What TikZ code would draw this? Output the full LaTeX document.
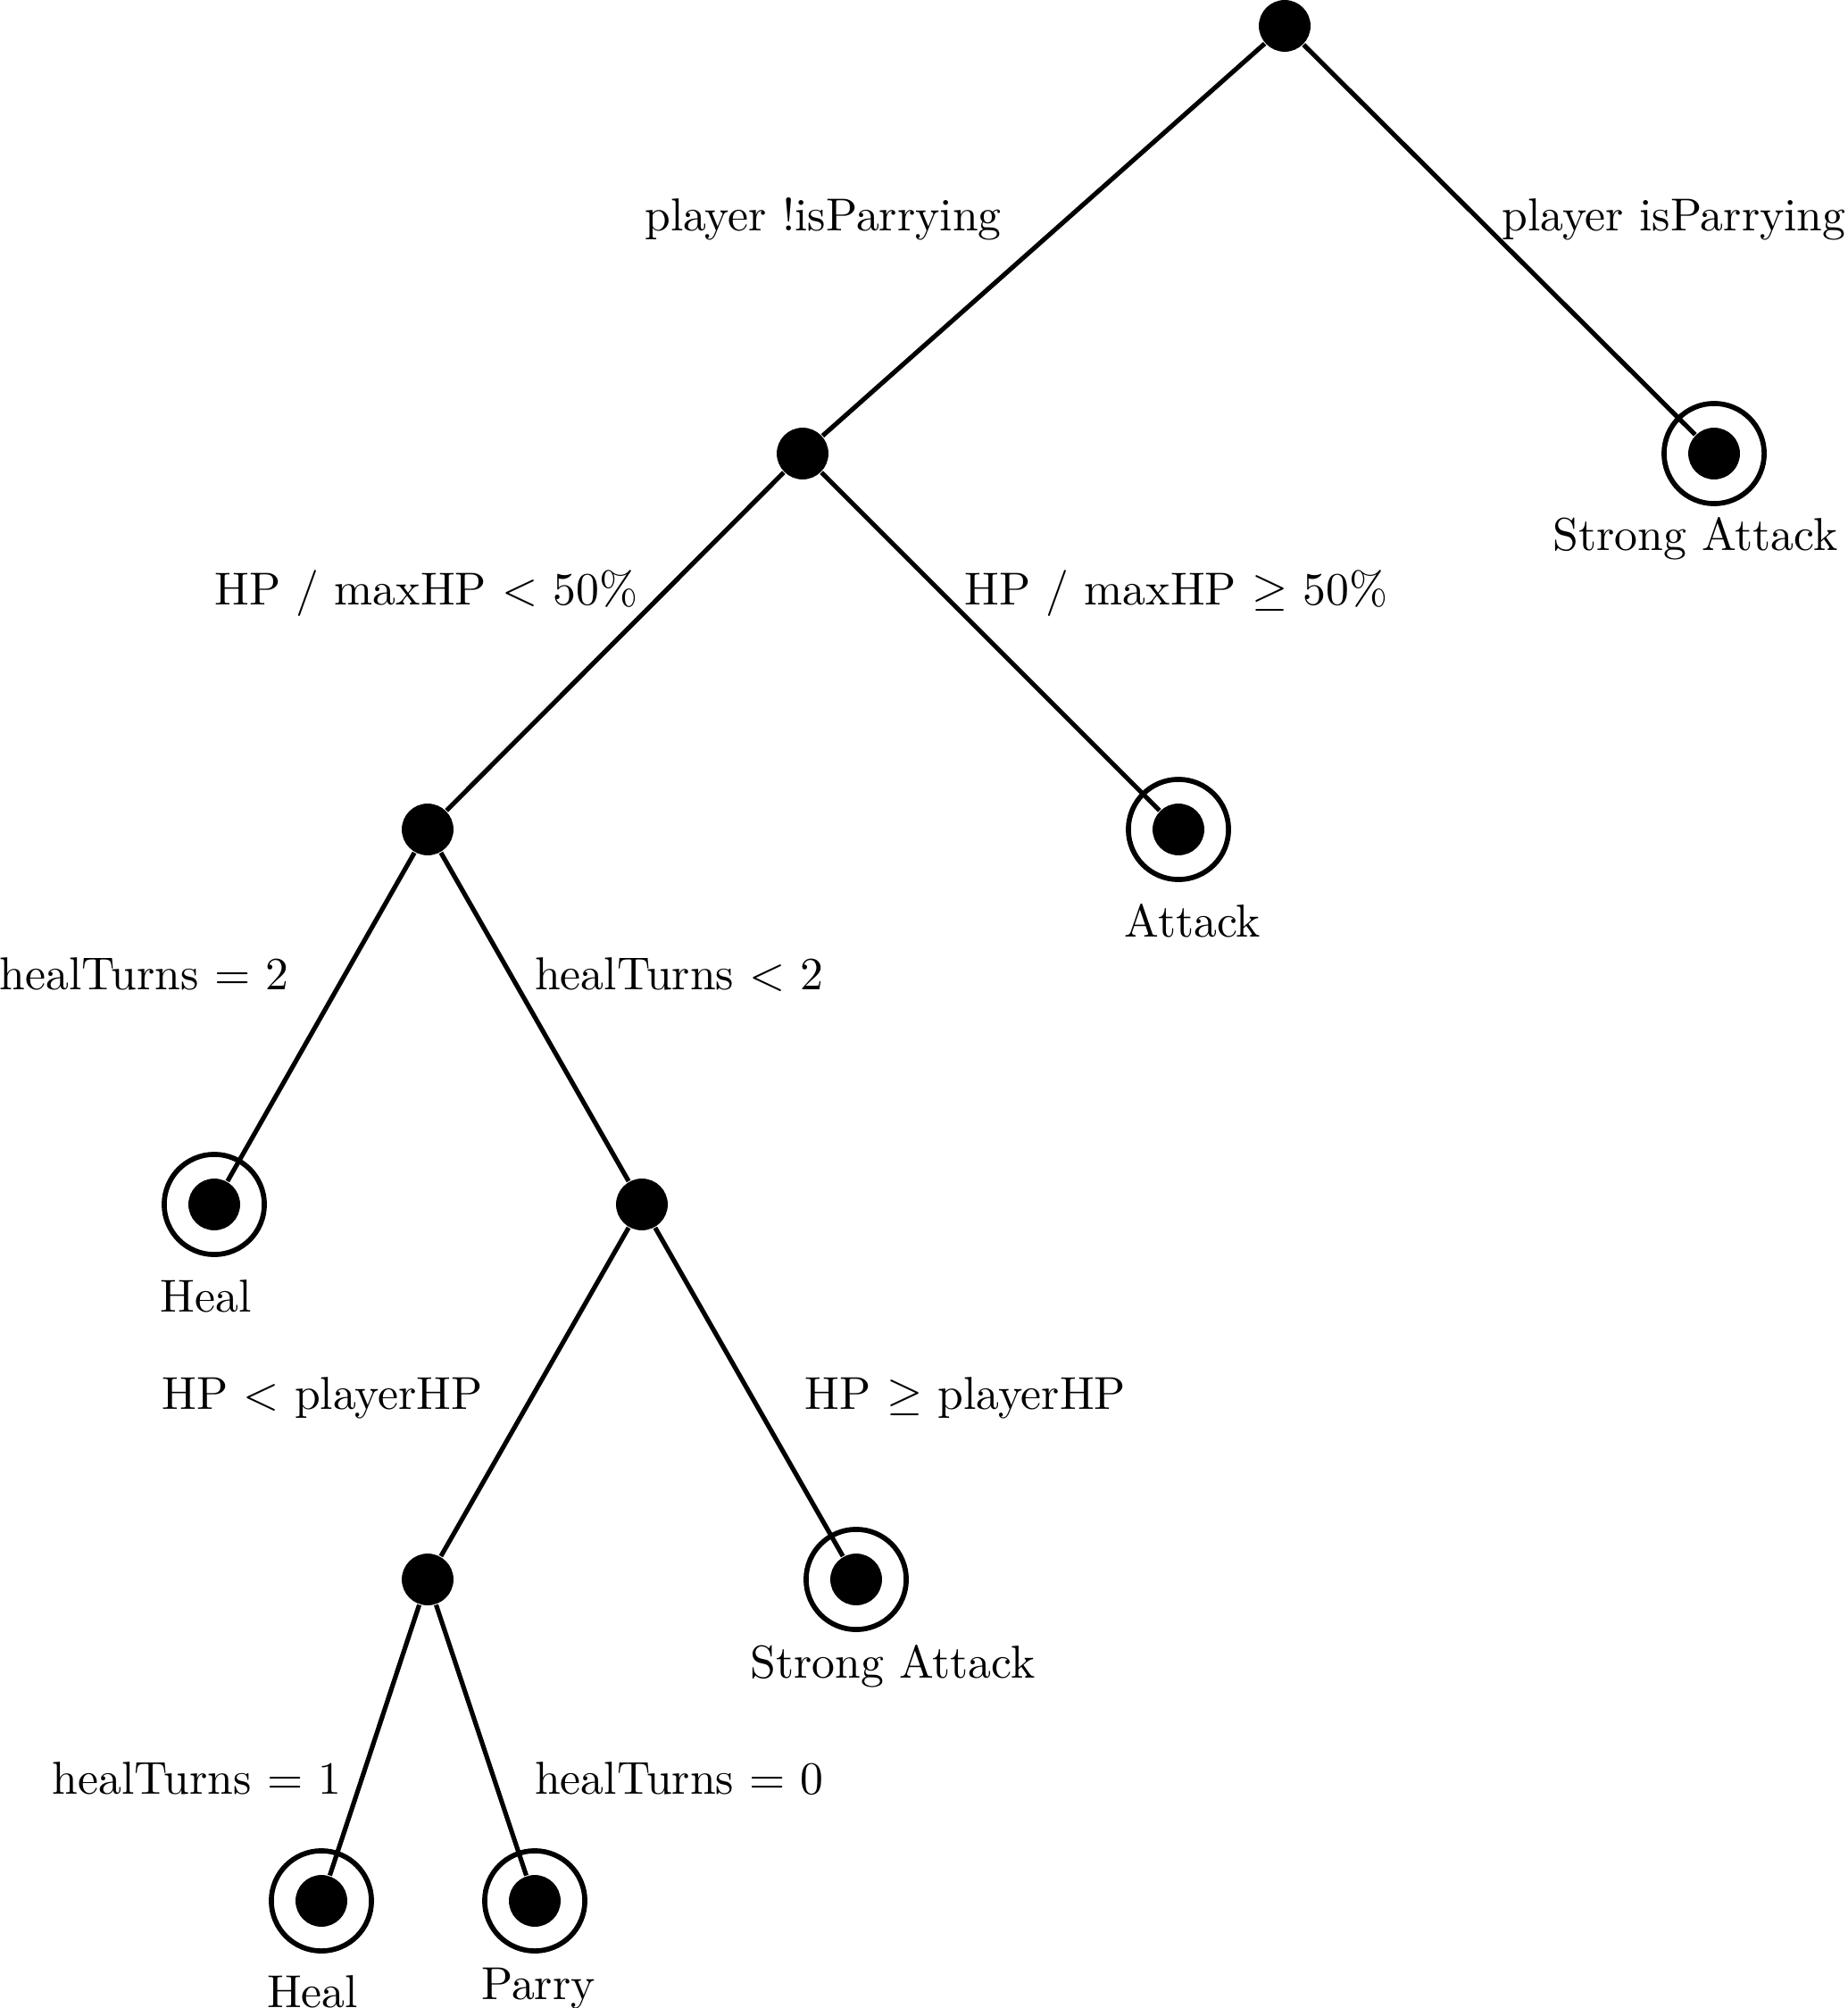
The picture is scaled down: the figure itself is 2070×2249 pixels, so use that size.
\documentclass[tikz,border=0pt]{standalone}
\usepackage{amssymb}
\begin{document}
\begin{tikzpicture}[x=0.1934pt,y=-0.1934pt,
  dot/.style={circle,fill=black,inner sep=0pt,minimum size=11.2pt},
  ring/.style={circle,draw=black,line width=1.1pt,inner sep=0pt,minimum size=21.7pt},
  edge/.style={line width=1pt},
  lbl/.style={inner sep=0pt,anchor=base,font=\fontsize{10pt}{12pt}\selectfont}]
\useasboundingbox (0,0) rectangle (2070,2249);
% inner nodes
\node[dot] (root) at (1439,29) {};
\node[dot] (n1) at (899,508) {};
\node[dot] (n2) at (479,929) {};
\node[dot] (n3) at (719,1349) {};
\node[dot] (n4) at (479,1769) {};
% leaves
\node[dot] (sa1) at (1920,508) {};
\node[ring] (sa1r) at (sa1) {};
\node[dot] (att) at (1320,929) {};
\node[ring] (attr) at (att) {};
\node[dot] (h1) at (240,1349) {};
\node[ring] (h1r) at (h1) {};
\node[dot] (sa2) at (959,1769) {};
\node[ring] (sa2r) at (sa2) {};
\node[dot] (h2) at (360,2129) {};
\node[ring] (h2r) at (h2) {};
\node[dot] (par) at (599,2129) {};
\node[ring] (parr) at (par) {};
% edges
\draw[edge] (root) -- (n1);
\draw[edge] (root) -- (sa1);
\draw[edge] (n1) -- (n2);
\draw[edge] (n1) -- (att);
\draw[edge] (n2) -- (h1);
\draw[edge] (n2) -- (n3);
\draw[edge] (n3) -- (n4);
\draw[edge] (n3) -- (sa2);
\draw[edge] (n4) -- (h2);
\draw[edge] (n4) -- (par);
% edge labels
\node[lbl] (l1) at (922,259) {player !isParrying};
\node[lbl] (l2) at (1875,259) {player isParrying};
\node[lbl] (l4) at (477.5,678) {HP / maxHP $<$ 50\%};
\node[lbl] (l5) at (1317.5,678) {HP / maxHP $\geq$ 50\%};
\node[lbl] (l7) at (161.5,1108) {healTurns $=$ 2};
\node[lbl] (l8) at (761,1108) {healTurns $<$ 2};
\node[lbl] (l10) at (361,1578) {HP $<$ playerHP};
\node[lbl] (l11) at (1081.5,1578) {HP $\geq$ playerHP};
\node[lbl] (l13) at (220.5,2009) {healTurns $=$ 1};
\node[lbl] (l14) at (761,2009) {healTurns $=$ 0};
% leaf labels
\node[lbl] (t3) at (1899,617) {Strong Attack};
\node[lbl] (t6) at (1336,1049) {Attack};
\node[lbl] (t9) at (230.5,1469) {Heal};
\node[lbl] (t12) at (1000,1879) {Strong Attack};
\node[lbl] (t15) at (350,2248) {Heal};
\node[lbl] (t16) at (603,2239) {Parry};
\end{tikzpicture}
\end{document}
